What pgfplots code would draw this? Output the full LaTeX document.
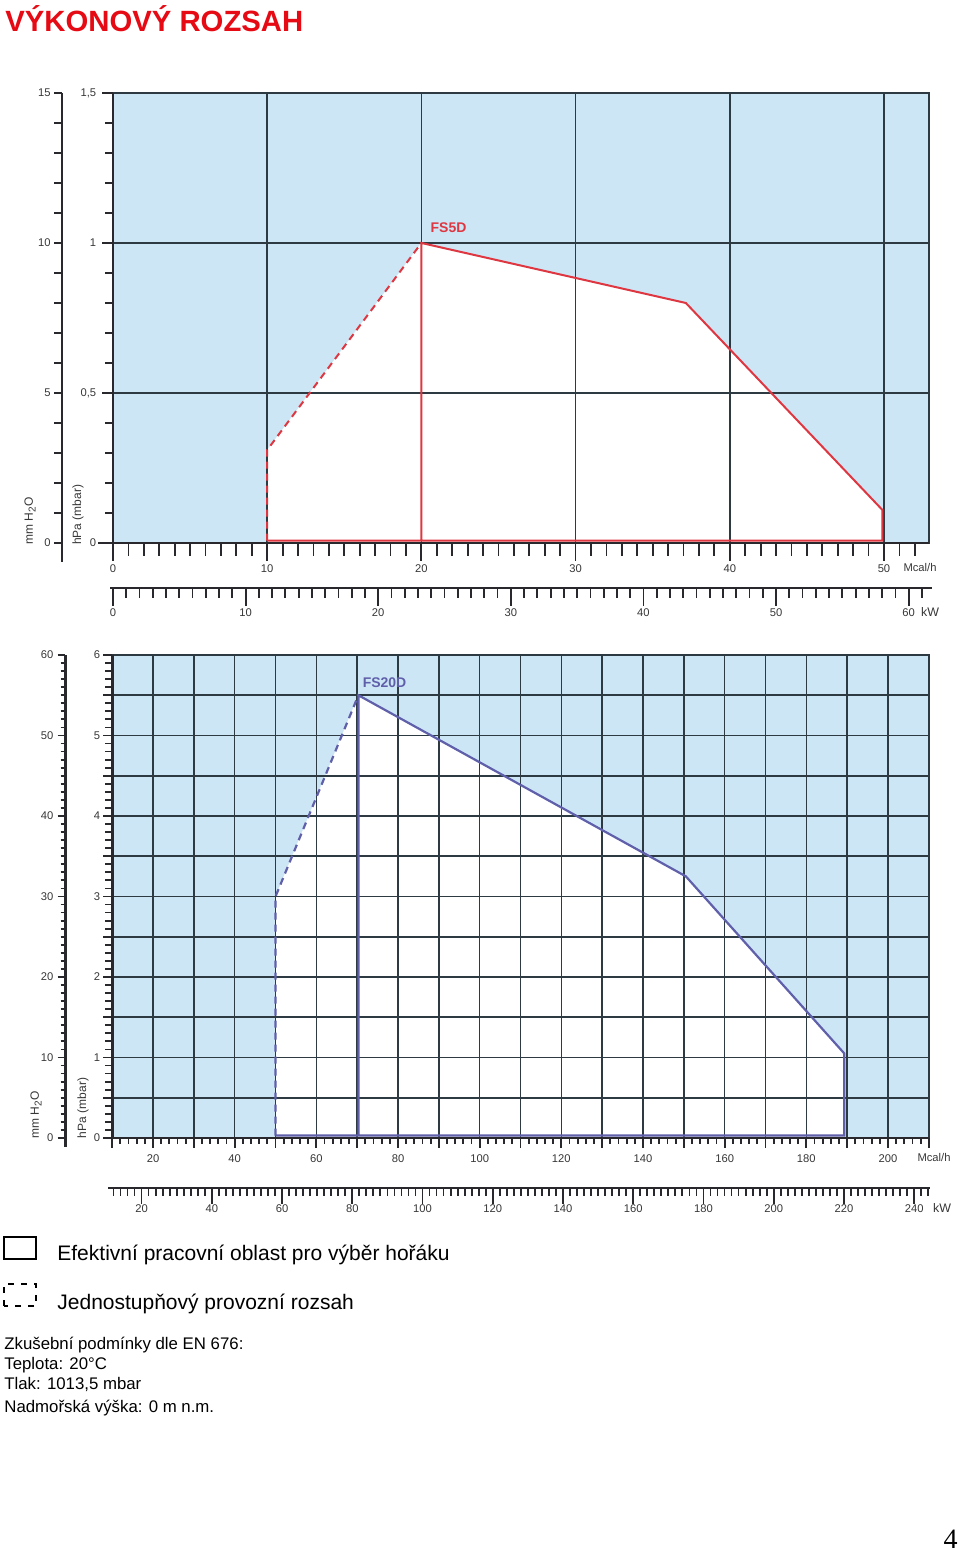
\documentclass[border=0pt]{standalone}
\usepackage{fontspec}
\setmainfont{Liberation Sans}
\newfontfamily\seriffont{Liberation Serif}
\usepackage{pgfplots}
\pgfplotsset{compat=1.18}
\definecolor{bgblue}{RGB}{205,230,245}
\definecolor{griddark}{RGB}{45,58,66}
\definecolor{axisdark}{RGB}{40,40,45}
\definecolor{fsred}{RGB}{222,55,65}
\definecolor{fsblue}{RGB}{95,95,170}
\definecolor{titlered}{RGB}{230,10,20}
\definecolor{labelgray}{RGB}{55,55,55}
\newcommand\ticksize{\fontsize{5.6pt}{6pt}\selectfont}
\pgfplotsset{
  every non boxed x axis/.style={},
  every non boxed y axis/.style={},
  base/.style={anchor=south west, scale only axis, /pgf/number format/assume math mode=true,
    tick label style={font=\ticksize, text=labelgray}, tick align=outside,
    tick style={line width=0.9pt, draw=axisdark},
    axis line style={-, line width=1.4pt, draw=axisdark}},
  bgaxis/.style={anchor=south west, scale only axis, axis background/.style={fill=bgblue},
    xtick=\empty, ytick=\empty, axis line style={draw=griddark, line width=0.8pt}},
  yonly/.style={base, width=1pt, xmin=0, xmax=1, hide x axis, axis y line=left},
  xonly/.style={base, height=1pt, ymin=0, ymax=1, hide y axis, axis x line=bottom},
}
\begin{document}
\begin{tikzpicture}
\path[use as bounding box] (0,0) rectangle (480pt,775.5pt);
\node[anchor=base west, inner sep=0, font=\fontsize{14.65pt}{16pt}\selectfont\bfseries, text=titlered] at (2.5pt,759.5pt) {VÝKONOVÝ ROZSAH};

% ================= TOP PANEL (FS5D) =================
\begin{axis}[bgaxis, at={(56.5pt,504pt)}, width=408pt, height=225pt, xmin=0, xmax=52.92, ymin=0, ymax=1.5]
\addplot[fill=white, draw=none, no markers] coordinates {(10,0) (10,0.31) (20,1.0) (37.15,0.80) (49.9,0.11) (49.9,0)};
\end{axis}
\begin{axis}[base, at={(56.5pt,504pt)}, width=408pt, height=225pt, xmin=0, xmax=52.92, ymin=0, ymax=1.5,
  axis x line=bottom, axis y line=left, x axis line style={-, shorten <=-7.5pt}, y axis line style={-},
  xtick={0,10,...,50}, minor xtick={0,1,...,52}, xticklabel style={yshift=1.5pt},
  ytick={0,0.5,1,1.5}, yticklabels={}, ytick style={draw=none},
  major tick length=9pt, minor tick length=6.5pt, tick align=outside,
  grid=major, major grid style={line width=0.8pt, draw=griddark}]
\addplot[fsred, line width=1pt, no markers] coordinates {(10,0.008) (49.9,0.008) (49.9,0.11) (37.15,0.80) (20,1.0) (20,0.008)};
\addplot[fsred, line width=1pt, no markers, dash pattern=on 3.5pt off 2.5pt] coordinates {(10,0.008) (10,0.31) (20,1.0)};
\node[font=\fontsize{7pt}{8pt}\selectfont\bfseries, text=fsred] at (axis cs:21.76,1.051) {FS5D};
\end{axis}
\begin{axis}[yonly, at={(56.5pt,504pt)}, height=225pt, ymin=0, ymax=1.5, y axis line style={-}, tick align=outside,
  ytick={0,0.5,1,1.5}, yticklabels={0,{0,5},1,{1,5}}, minor ytick={0,0.1,...,1.55}, yticklabel style={xshift=0.6pt},
  major tick length=5.5pt, minor tick length=4pt]
\end{axis}
\begin{axis}[yonly, at={(31pt,494.5pt)}, height=234.5pt, ymin=-0.633, ymax=15, y axis line style={-}, tick align=outside,
  ytick={0,5,10,15}, minor ytick={0,1,...,15}, yticklabel style={xshift=1.8pt}, major tick length=4pt, minor tick length=4pt]
\end{axis}
\begin{axis}[xonly, at={(55pt,481.5pt)}, width=411pt, xmin=-0.226, xmax=61.76, x axis line style={-}, tick align=outside,
  xtick={0,10,...,60}, minor xtick={0,1,...,61}, xticklabel style={yshift=2pt}, major tick length=9pt, minor tick length=5pt]
\end{axis}
\node[rotate=90, font=\fontsize{6pt}{7pt}\selectfont, text=labelgray] at (39pt,518pt) {hPa (mbar)};
\node[rotate=90, font=\fontsize{6pt}{7pt}\selectfont, text=labelgray] at (15pt,515pt) {mm H\textsubscript{2}O};
\node[font=\ticksize, text=labelgray] at (460pt,491.5pt) {Mcal/h};
\node[font=\fontsize{6.2pt}{7pt}\selectfont, text=labelgray] at (465pt,469.5pt) {kW};

% ================= BOTTOM PANEL (FS20D) =================
\begin{axis}[bgaxis, at={(56.1pt,206.5pt)}, width=408.3pt, height=241.5pt, xmin=10, xmax=210, ymin=0, ymax=6]
\addplot[fill=white, draw=none, no markers] coordinates {(50,0) (50,3.0) (70.3,5.5) (150.5,3.25) (189.3,1.05) (189.3,0)};
\end{axis}
\begin{axis}[base, at={(56.1pt,206.5pt)}, width=408.3pt, height=241.5pt, xmin=10, xmax=210, ymin=0, ymax=6,
  axis x line=bottom, axis y line=left, x axis line style={-, shorten <=-2pt}, y axis line style={-},
  xtick={10,20,...,210}, xticklabels={,20,,40,,60,,80,,100,,120,,140,,160,,180,,200,},
  minor xtick={10,12,...,210},
  ytick={0,0.5,...,6}, yticklabels={}, ytick style={draw=none},
  major tick length=5pt, minor tick length=3pt, tick align=outside,
  grid=major, major grid style={line width=0.8pt, draw=griddark}]
\addplot[fsblue, line width=1.1pt, no markers] coordinates {(50,0.03) (189.3,0.03) (189.3,1.05) (150.5,3.25) (70.3,5.5) (70.3,0.03)};
\addplot[fsblue, line width=1.1pt, no markers, dash pattern=on 3.5pt off 2.5pt] coordinates {(50,0.03) (50,3.0) (70.3,5.5)};
\node[font=\fontsize{7pt}{8pt}\selectfont\bfseries, text=fsblue] at (axis cs:76.7,5.66) {FS20D};
\end{axis}
\begin{axis}[yonly, at={(56.1pt,206.5pt)}, height=241.5pt, ymin=0, ymax=6, y axis line style={-}, tick align=outside,
  ytick={0,0.5,...,6}, yticklabels={0,,1,,2,,3,,4,,5,,6}, minor ytick={0,0.1,...,6.05}, yticklabel style={xshift=2pt},
  major tick length=4.5pt, minor tick length=3.5pt]
\end{axis}
\begin{axis}[yonly, at={(32.75pt,202pt)}, height=246pt, ymin=-1.12, ymax=60, y axis line style={-}, tick align=outside,
  ytick={0,10,...,60}, minor ytick={0,1,...,60}, yticklabel style={xshift=1.5pt}, major tick length=4pt, minor tick length=2.5pt]
\end{axis}
\begin{axis}[xonly, at={(54pt,181.5pt)}, width=411pt, xmin=10.44, xmax=244.51, x axis line style={-}, tick align=outside,
  xtick={20,40,...,240}, minor xtick={12,14,...,244}, xticklabel style={yshift=3pt}, major tick length=8pt, minor tick length=4pt]
\end{axis}
\node[rotate=90, font=\fontsize{6pt}{7pt}\selectfont, text=labelgray] at (41.5pt,221.5pt) {hPa (mbar)};
\node[rotate=90, font=\fontsize{6pt}{7pt}\selectfont, text=labelgray] at (18pt,218pt) {mm H\textsubscript{2}O};
\node[font=\ticksize, text=labelgray] at (467pt,196.5pt) {Mcal/h};
\node[font=\fontsize{6.2pt}{7pt}\selectfont, text=labelgray] at (471pt,171.5pt) {kW};

% ================= LEGEND & NOTES =================
\draw[line width=0.7pt, black] (2pt,146pt) rectangle (18pt,157pt);
\draw[line width=0.9pt, black, dash pattern=on 3pt off 3.5pt] (2pt,122.5pt) rectangle (18pt,133.5pt);
\node[anchor=base west, inner sep=0, font=\fontsize{10.5pt}{12pt}\selectfont] at (28.5pt,145pt) {Efektivní pracovní oblast pro výběr hořáku};
\node[anchor=base west, inner sep=0, font=\fontsize{10.5pt}{12pt}\selectfont] at (28.5pt,120.5pt) {Jednostupňový provozní rozsah};
\node[anchor=base west, inner sep=0, font=\fontsize{8.4pt}{10pt}\selectfont] at (2pt,100.5pt) {Zkušební podmínky dle EN 676:};
\node[anchor=base west, inner sep=0, font=\fontsize{8.4pt}{10pt}\selectfont] at (2pt,90.5pt) {Teplota: 20°C};
\node[anchor=base west, inner sep=0, font=\fontsize{8.4pt}{10pt}\selectfont] at (2pt,80.5pt) {Tlak: 1013,5 mbar};
\node[anchor=base west, inner sep=0, font=\fontsize{8.4pt}{10pt}\selectfont] at (2pt,69pt) {Nadmořská výška: 0 m n.m.};
\node[anchor=base east, inner sep=0, font=\seriffont\fontsize{14pt}{16pt}\selectfont] at (479pt,1.5pt) {4};
\end{tikzpicture}
\end{document}
